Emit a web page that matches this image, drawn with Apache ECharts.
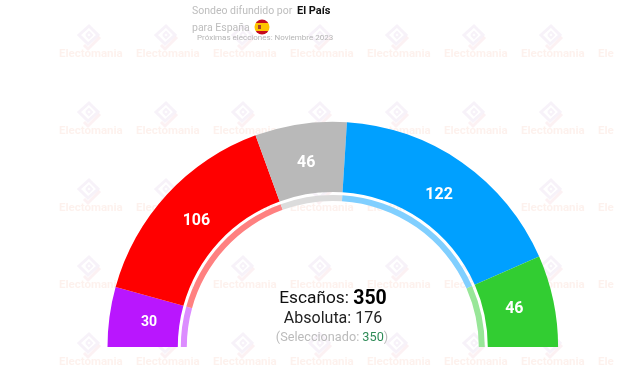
<!DOCTYPE html>
<html><head><meta charset="utf-8">
<style>html,body{margin:0;padding:0;background:#fff}#c{width:640px;height:384px}</style>
<script src="https://cdn.jsdelivr.net/npm/echarts@6/dist/echarts.min.js"></script>
</head><body><div id="c"></div>
<script>
const parties = ['Sumar','PSOE','Otros','PP','Vox'];
const seats = [30,106,46,122,46];
const colors = ['#b916fe','#ff0000','#b9b9b9','#00a0ff','#32cd32'];
const ringColors = ['#dc8cff','#ff8080','#dcdcdc','#80cfff','#98e698'];
const totalSeats = 350, majority = 176, selected = 350;
const wmColumns = [59,136,213,290,367,444,521,598];
const wmRows = [54,131,208,285,362];

const g = [];
const wmFill = 'rgba(170,110,190,0.09)';
wmRows.forEach(y => wmColumns.forEach((x,j) => {
  const last = j === wmColumns.length-1;
  g.push({type:'text',z:0,silent:true,x:x,y:y,style:{text:last?'Ele':'Electomania',font:'bold 11.5px Roboto',verticalAlign:'middle',fill:'rgba(240,120,80,0.10)'}});
  if (last) return;
  const cx = x+30, cy = y-17;
  g.push({type:'polygon',z:0,silent:true,shape:{points:[[cx,cy-11],[cx+9,cy-2],[cx-1,cy+7],[cx-10,cy-2]]},style:{fill:'none',stroke:wmFill,lineWidth:3}});
  g.push({type:'polyline',z:0,silent:true,shape:{points:[[cx-3,cy-2],[cx,cy-5],[cx+3,cy-2],[cx,cy+1],[cx-3,cy-2]]},style:{fill:'none',stroke:wmFill,lineWidth:2}});
  g.push({type:'polyline',z:0,silent:true,shape:{points:[[cx-5,cy+8],[cx-1,cy+12],[cx+11,cy]]},style:{fill:'none',stroke:'rgba(230,120,140,0.10)',lineWidth:3}});
}));
function txt(text,x,y,font,fill,align){
  g.push({type:'text',z:10,x:x,y:y,style:{text:text,font:font,fill:fill,align:align||'left',verticalAlign:'middle'}});
}
txt('Sondeo difundido por',192,11,'10.5px Roboto','#bdbdbd');
txt('El País',297,11,'bold 11px Roboto','#111');
txt('para España',192,28,'10.5px Roboto','#bdbdbd');
txt('Próximas elecciones: Noviembre 2023',197,38,'8px Roboto','#b5b5b5');
g.push({type:'circle',z:10,shape:{cx:262,cy:27,r:7.5},style:{fill:{type:'linear',x:0,y:0,x2:0,y2:1,colorStops:[
 {offset:0,color:'#c60b1e'},{offset:.26,color:'#c60b1e'},{offset:.26,color:'#ffc400'},{offset:.74,color:'#ffc400'},{offset:.74,color:'#c60b1e'},{offset:1,color:'#c60b1e'}]}}});
g.push({type:'rect',z:11,shape:{x:258,y:25,width:3,height:4},style:{fill:'#a5432a'}});
g.push({type:'text',z:10,x:333,y:299,style:{rich:{a:{font:'17.3px Roboto',fill:'#111'},b:{font:'bold 19.5px Roboto',fill:'#000'}},text:'{a|Escaños: }{b|'+totalSeats+'}',align:'center',verticalAlign:'middle'}});
txt('Absoluta: '+majority,333,319,'16px Roboto','#222','center');
g.push({type:'text',z:10,x:332,y:338,style:{rich:{a:{font:'12.7px Roboto',fill:'#bbb'},b:{font:'12.7px Roboto',fill:'#2e8b57'}},text:'{a|(Seleccionado: }{b|'+selected+'}{a|)}',align:'center',verticalAlign:'middle'}});

const chart = echarts.init(document.getElementById('c'),null,{renderer:'canvas'});
const base = {type:'pie',center:[332.8,347],startAngle:180,endAngle:0,clockwise:true,silent:true,labelLine:{show:false}};
chart.setOption({
  animation:false,
  graphic:{elements:g},
  series:[
    {...base,radius:[155,225.3],label:{show:false},
     data:parties.map((n,i)=>({name:n,value:seats[i],itemStyle:{color:colors[i]}}))},
    {...base,radius:[146,152],label:{show:false},
     data:parties.map((n,i)=>({name:n,value:seats[i],itemStyle:{color:ringColors[i]}}))},
    {...base,radius:[140,225],z:5,itemStyle:{color:'rgba(0,0,0,0)'},
     label:{show:true,position:'inside',formatter:'{c}',color:'#fff',fontFamily:'Roboto',fontWeight:'bold',fontSize:16},
     data:parties.map((n,i)=>({name:n,value:seats[i],label:i===0?{fontSize:14}:{}}))}
  ]
});
</script></body></html>
